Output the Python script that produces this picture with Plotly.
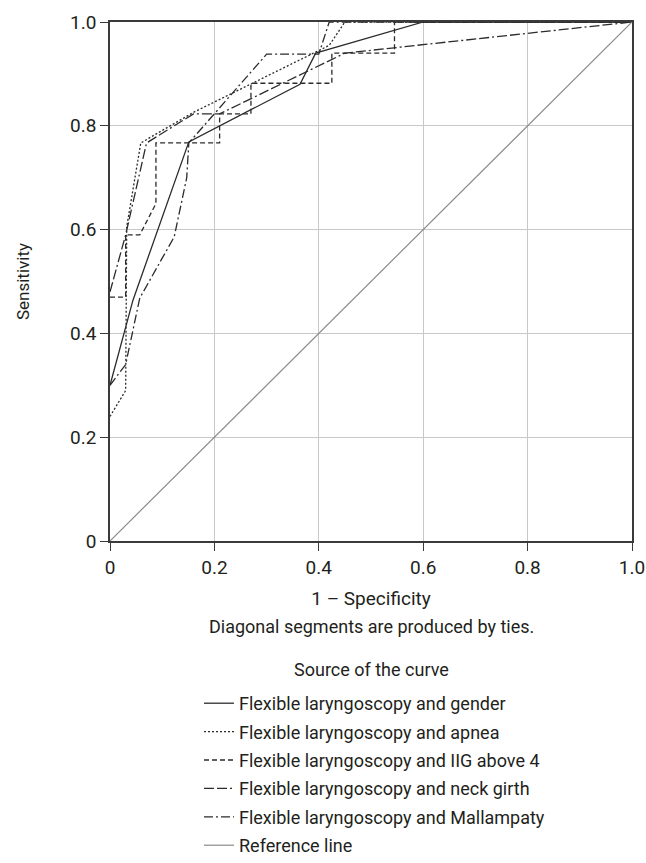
import plotly.graph_objects as go

# ---- data ----
gender_x = [0, 0.044, 0.151, 0.364, 0.394, 0.60, 1.0]
gender_y = [0.30, 0.464, 0.769, 0.88, 0.94, 1.0, 1.0]

apnea_x = [0, 0.03, 0.032, 0.059, 0.16, 0.42, 0.45, 1.0]
apnea_y = [0.24, 0.29, 0.605, 0.767, 0.826, 0.955, 1.0, 1.0]

iig_x = [0, 0.03, 0.03, 0.057, 0.088, 0.088, 0.21, 0.21, 0.27, 0.27, 0.425, 0.425, 0.545, 0.545, 1.0]
iig_y = [0.47, 0.47, 0.59, 0.59, 0.65, 0.767, 0.767, 0.823, 0.823, 0.882, 0.882, 0.94, 0.94, 1.0, 1.0]

neck_x = [0, 0.03, 0.07, 0.16, 0.21, 0.45, 1.0]
neck_y = [0.48, 0.59, 0.767, 0.823, 0.823, 0.94, 1.0]

mall_x = [0, 0.03, 0.057, 0.123, 0.147, 0.151, 0.30, 0.40, 0.42, 1.0]
mall_y = [0.30, 0.34, 0.468, 0.586, 0.70, 0.767, 0.938, 0.938, 1.0, 1.0]

ref_x = [0, 1]
ref_y = [0, 1]

series = [
    ("Flexible laryngoscopy and gender", gender_x, gender_y, "solid", "#2b2b2b", 1.3),
    ("Flexible laryngoscopy and apnea", apnea_x, apnea_y, "2px,2px", "#2b2b2b", 1.3),
    ("Flexible laryngoscopy and IIG above 4", iig_x, iig_y, "5px,3px", "#2b2b2b", 1.3),
    ("Flexible laryngoscopy and neck girth", neck_x, neck_y, "10px,3px,10px,3px,2px,3px", "#2b2b2b", 1.3),
    ("Flexible laryngoscopy and Mallampaty", mall_x, mall_y, "9px,3px,2px,3px", "#2b2b2b", 1.3),
    ("Reference line", ref_x, ref_y, "solid", "#8a8a8a", 1.2),
]

FONT = "Liberation Sans Narrow, Arial Narrow, Roboto, sans-serif"
TXT = "#231f20"

PLOT_LEFT, PLOT_RIGHT = 110, 632
PLOT_TOP, PLOT_BOTTOM = 22, 541
def paper_y(py):
    return (PLOT_BOTTOM - py) / (PLOT_BOTTOM - PLOT_TOP)
def paper_x(px):
    return (px - PLOT_LEFT) / (PLOT_RIGHT - PLOT_LEFT)

fig = go.Figure()
for i, (name, xs, ys, dash, color, w) in enumerate(series):
    fig.add_trace(go.Scatter(
        x=xs, y=ys, mode="lines", name=name, legendgroup=f"g{i}",
        line=dict(color=color, width=w, dash=dash),
    ))

tickvals = [0, 0.2, 0.4, 0.6, 0.8, 1.0]
ticktext = ["0", "0.2", "0.4", "0.6", "0.8", "1.0"]

axis_common = dict(
    range=[0, 1], tickvals=tickvals, ticktext=ticktext,
    showgrid=True, gridcolor="#c8c8c8", gridwidth=1,
    showline=True, linecolor="#3a3a3a", linewidth=1.5, mirror=True,
    ticks="outside", ticklen=8, tickcolor="#3a3a3a", tickwidth=1,
    zeroline=False, tickfont=dict(family=FONT, size=19, color=TXT),
    fixedrange=True,
)

fig.update_layout(
    width=646, height=863,
    margin=dict(l=PLOT_LEFT, r=646 - PLOT_RIGHT, t=PLOT_TOP, b=863 - PLOT_BOTTOM, autoexpand=False),
    paper_bgcolor="white", plot_bgcolor="white",
    font=dict(family=FONT, size=18, color=TXT),
    xaxis=dict(**axis_common, title=dict(text="1 – Specificity", font=dict(family=FONT, size=19, color=TXT), standoff=14)),
    yaxis=dict(**axis_common, title=dict(text="Sensitivity", font=dict(family=FONT, size=17, color=TXT), standoff=36)),
    showlegend=True,
    legend=dict(
        x=paper_x(199), y=paper_y(685), xanchor="left", yanchor="top",
        font=dict(family=FONT, size=18, color=TXT),
        tracegroupgap=2, bgcolor="rgba(0,0,0,0)", itemclick=False, itemdoubleclick=False,
    ),
    annotations=[
        dict(text="Diagonal segments are produced by ties.", xref="paper", yref="paper",
             x=0.5, y=paper_y(626), xanchor="center", yanchor="middle", showarrow=False,
             font=dict(family=FONT, size=18, color=TXT)),
        dict(text="Source of the curve", xref="paper", yref="paper",
             x=0.5, y=paper_y(669), xanchor="center", yanchor="middle", showarrow=False,
             font=dict(family=FONT, size=18, color=TXT)),
    ],
)

fig.write_html("out.html")
